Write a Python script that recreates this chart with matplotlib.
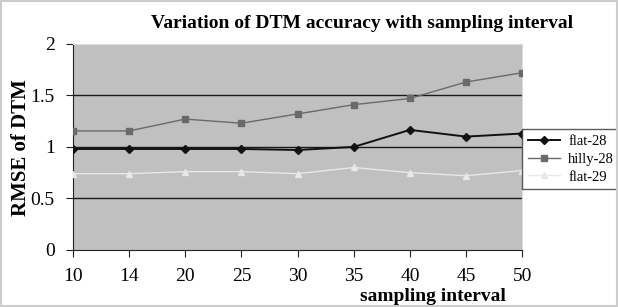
import matplotlib
matplotlib.use("Agg")
import matplotlib.pyplot as plt

# data
intervals = ["10", "14", "20", "25", "30", "35", "40", "45", "50"]
flat_28 = [0.98, 0.98, 0.98, 0.98, 0.97, 1.00, 1.165, 1.10, 1.13]
hilly_28 = [1.155, 1.155, 1.27, 1.23, 1.32, 1.41, 1.47, 1.63, 1.72]
flat_29 = [0.74, 0.74, 0.76, 0.76, 0.74, 0.80, 0.75, 0.72, 0.77]
y_ticks = [0, 0.5, 1, 1.5, 2]

plt.rcParams['font.family'] = ['Liberation Serif', 'DejaVu Serif']

fig = plt.figure(figsize=(6.18, 3.07), dpi=100)
fig.patch.set_facecolor('white')
ax = fig.add_axes([0.118, 0.186, 0.727, 0.671])
ax.set_facecolor('#c0c0c0')

x = list(range(len(intervals)))
l1, = ax.plot(x, flat_28, color='#111111', lw=1.4, marker='D', ms=4, label='flat-28', zorder=4)
l2, = ax.plot(x, hilly_28, color='#6a6a6a', lw=1.0, marker='s', ms=5, label='hilly-28', zorder=4)
l3, = ax.plot(x, flat_29, color='#e8e8e8', lw=1.0, marker='^', ms=4, label='flat-29', zorder=4)

ax.set_xlim(0, len(intervals) - 1)
ax.set_ylim(0, 2)
ax.set_xticks(x)
ax.set_xticklabels(intervals, fontsize=14)
ax.set_yticks(y_ticks)
ax.set_yticklabels(['0', '0.5', '1', '1.5', '2'], fontsize=14)
for v in [0.5, 1, 1.5]:
    ax.axhline(v, color='#1a1a1a', lw=1.0, zorder=2)

for s in ['top', 'right']:
    ax.spines[s].set_color('#dcdcdc')
for s in ['left', 'bottom']:
    ax.spines[s].set_color('#222222')
ax.tick_params(axis='both', direction='out', length=5, color='#222222', pad=8)

fig.text(0.586, 0.925, 'Variation of DTM accuracy with sampling interval', fontsize=14,
         fontweight='bold', ha='center', va='center')
ax.set_ylabel('RMSE of DTM', fontsize=15, fontweight='bold')
ax.yaxis.set_label_coords(-0.093, 0.495)
fig.text(0.70, 0.02, 'sampling interval', fontsize=14, fontweight='bold', ha='center')

leg = ax.legend(handles=[l1, l2, l3], loc='upper left', bbox_to_anchor=(1.0, 0.585),
                frameon=True, fancybox=False, fontsize=10.5, borderaxespad=0,
                handlelength=2.2, handletextpad=0.55, labelspacing=0.3, borderpad=0.4)
leg.get_frame().set_edgecolor('#333333')
leg.get_frame().set_linewidth(1.0)

fig.add_artist(plt.Rectangle((0.002, 0.004), 0.996, 0.992, transform=fig.transFigure,
                             fill=False, edgecolor='#cccccc', lw=1.5))

fig.savefig('out.png', dpi=100)
